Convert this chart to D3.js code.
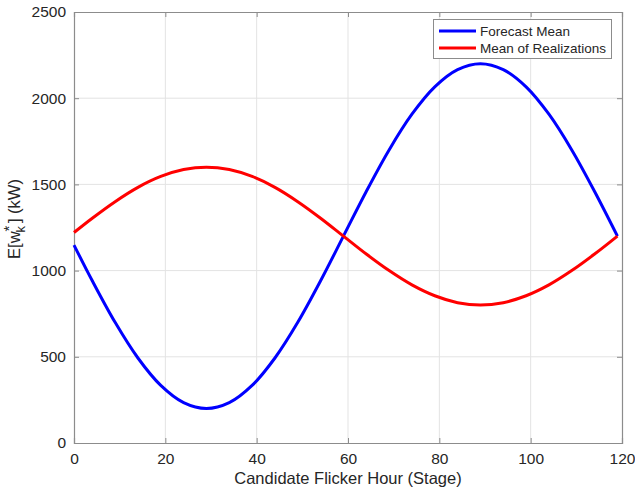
<!DOCTYPE html>
<html>
<head>
<meta charset="utf-8">
<script src="https://cdn.jsdelivr.net/npm/d3@7"></script>
<style>
  body { margin: 0; background: #fff; }
  text { font-family: "Liberation Sans", Arial, Helvetica, sans-serif; fill: #262626; }
</style>
</head>
<body>
<div id="chart"></div>
<script>
// valores
const hours = [0, 4, 9, 14, 19, 24, 29, 34, 39, 44, 49, 54, 59, 64, 69, 74, 79, 84, 89, 94, 99, 104, 109, 114, 119];
const forecastMean = [1148, 941, 700, 493, 334, 234, 200, 234, 334, 493, 700, 941, 1200, 1459, 1700, 1907, 2066, 2166, 2200, 2166, 2066, 1907, 1700, 1459, 1200];
const realizMean = [1221, 1304, 1400, 1483, 1546, 1586, 1600, 1586, 1546, 1483, 1400, 1304, 1200, 1096, 1000, 917, 854, 814, 800, 814, 854, 917, 1000, 1096, 1200];
const xTicks = [0, 20, 40, 60, 80, 100, 120];
const yTicks = [0, 500, 1000, 1500, 2000, 2500];
const seriesNames = ["Forecast Mean", "Mean of Realizations"];
const seriesColors = ["#0000ff", "#ff0000"];

const width = 635, height = 494;
const margin = { top: 12, right: 13, bottom: 51, left: 74 };
const plotW = width - margin.left - margin.right;
const plotH = height - margin.top - margin.bottom;

const svg = d3.select("#chart").append("svg")
    .attr("width", width)
    .attr("height", height);

const g = svg.append("g")
    .attr("transform", `translate(${margin.left},${margin.top})`);

const x = d3.scaleLinear().domain([0, 120]).range([0, plotW]);
const y = d3.scaleLinear().domain([0, 2500]).range([plotH, 0]);

// --- Rejilla ---
g.append("g").selectAll("line")
    .data(xTicks.slice(1, -1))
    .enter().append("line")
    .attr("x1", d => x(d)).attr("x2", d => x(d))
    .attr("y1", 0).attr("y2", plotH)
    .style("stroke", "#e3e3e3").style("stroke-width", "1px");

g.append("g").selectAll("line")
    .data(yTicks.slice(1, -1))
    .enter().append("line")
    .attr("x1", 0).attr("x2", plotW)
    .attr("y1", d => y(d)).attr("y2", d => y(d))
    .style("stroke", "#e3e3e3").style("stroke-width", "1px");

// --- Ejes ---
g.append("g")
    .attr("transform", `translate(0,${plotH})`)
    .call(d3.axisBottom(x).tickValues(xTicks).tickSize(-5).tickPadding(10).tickFormat(d3.format("d")));
g.append("g")
    .call(d3.axisLeft(y).tickValues(yTicks).tickSize(-5).tickPadding(8).tickFormat(d3.format("d")));

// ejes superior y derecho (caja)
g.append("g").call(d3.axisTop(x).tickValues(xTicks).tickSize(-5).tickFormat(""));
g.append("g").attr("transform", `translate(${plotW},0)`)
    .call(d3.axisRight(y).tickValues(yTicks).tickSize(-5).tickFormat(""));

g.selectAll(".domain").style("stroke", "#8c8c8c").style("stroke-width", "1.2px");
g.selectAll(".tick line").style("stroke", "#8c8c8c");
g.selectAll(".tick text").style("font-size", "15.5px").attr("fill", "#262626")
    .style("font-family", "'Liberation Sans', Arial, sans-serif");

// --- Curvas ---
const line = d3.line()
    .x(d => x(d[0]))
    .y(d => y(d[1]))
    .curve(d3.curveCatmullRom);

[forecastMean, realizMean].forEach((vals, i) => {
    g.append("path")
        .datum(hours.map((h, j) => [h, vals[j]]))
        .attr("d", line)
        .style("fill", "none")
        .style("stroke", seriesColors[i])
        .style("stroke-width", "3px")
        .style("stroke-linejoin", "round");
});

// --- Etiquetas de ejes ---
svg.append("text")
    .attr("x", margin.left + plotW / 2)
    .attr("y", 484)
    .attr("text-anchor", "middle")
    .style("font-size", "16.5px")
    .text("Candidate Flicker Hour (Stage)");

const yl = svg.append("text")
    .attr("transform", `translate(20,219) rotate(-90)`)
    .attr("text-anchor", "middle")
    .style("font-size", "16.5px");
yl.append("tspan").text("E[w");
yl.append("tspan").attr("dy", -6).style("font-size", "15px").text("*");
yl.append("tspan").attr("dy", 11).attr("dx", -7).style("font-size", "13px").text("k");
yl.append("tspan").attr("dy", -5).attr("dx", 3).text("] (kW)");

// --- Leyenda ---
const legend = svg.append("g");
legend.append("rect")
    .attr("x", 433.5).attr("y", 19.5)
    .attr("width", 178).attr("height", 39)
    .style("fill", "#fff")
    .style("stroke", "#8c8c8c")
    .style("stroke-width", "1px");

seriesNames.forEach((name, i) => {
    const ly = 31 + i * 17;
    legend.append("line")
        .attr("x1", 439).attr("x2", 476)
        .attr("y1", ly).attr("y2", ly)
        .style("stroke", seriesColors[i])
        .style("stroke-width", "3px");
    legend.append("text")
        .attr("x", 480).attr("y", ly + 5)
        .style("font-size", "13.5px")
        .text(name);
});
</script>
</body>
</html>
